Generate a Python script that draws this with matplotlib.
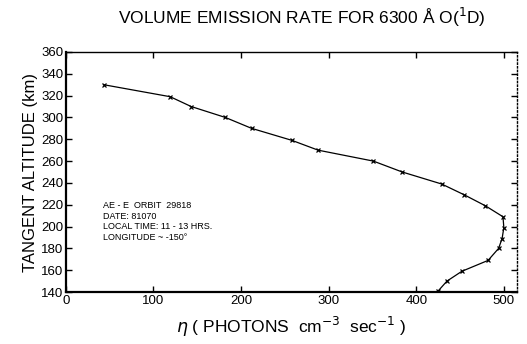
import matplotlib
matplotlib.use("Agg")
import matplotlib.pyplot as plt

plt.rcParams['font.family'] = ['Liberation Sans', 'DejaVu Sans']

# emission rate (photons cm^-3 s^-1) vs tangent altitude (km)
eta = [43, 119, 143, 182, 212, 258, 288, 351, 384, 429, 455, 479,
       499, 500, 498, 494, 482, 452, 435, 425]
altitude = [330, 319, 310, 300, 290, 279, 270, 260, 250, 239, 229, 219,
            209, 199, 189, 180, 169, 159, 150, 141]

xticks = [0, 100, 200, 300, 400, 500]
yticks = list(range(140, 361, 20))

fig = plt.figure(figsize=(5.27, 3.44), dpi=100)
ax = fig.add_axes([0.125, 0.151, 0.856, 0.698])

ax.plot(eta, altitude, color='black', lw=0.9, marker='x', ms=3.2, mew=0.9)

ax.set_xlim(0, 515)
ax.set_ylim(140, 360)
ax.set_xticks(xticks)
ax.set_yticks(yticks)
ax.tick_params(direction='in', top=True, right=True, labelsize=9.5,
               length=4, width=1, pad=2)
for s in ax.spines.values():
    s.set_linewidth(1.0)
ax.spines['bottom'].set_linewidth(1.6)
ax.spines['left'].set_linewidth(1.6)
ax.spines['right'].set_linestyle(':')

ax.set_ylabel('TANGENT ALTITUDE (km)', fontsize=12, labelpad=2)
ax.set_xlabel(r'$\eta$ ( PHOTONS  cm$^{-3}$  sec$^{-1}$ )', fontsize=12.5,
              labelpad=6)

fig.text(0.573, 0.95, 'VOLUME EMISSION RATE FOR 6300 Å O($^{1}$D)',
         ha='center', va='center', fontsize=12.5)

ax.text(0.083, 0.38, 'AE - E  ORBIT  29818\nDATE: 81070\n'
        'LOCAL TIME: 11 - 13 HRS.\nLONGITUDE ~ -150°',
        transform=ax.transAxes, fontsize=6.5, va='top', linespacing=1.25)

fig.savefig('out.png', dpi=100)
